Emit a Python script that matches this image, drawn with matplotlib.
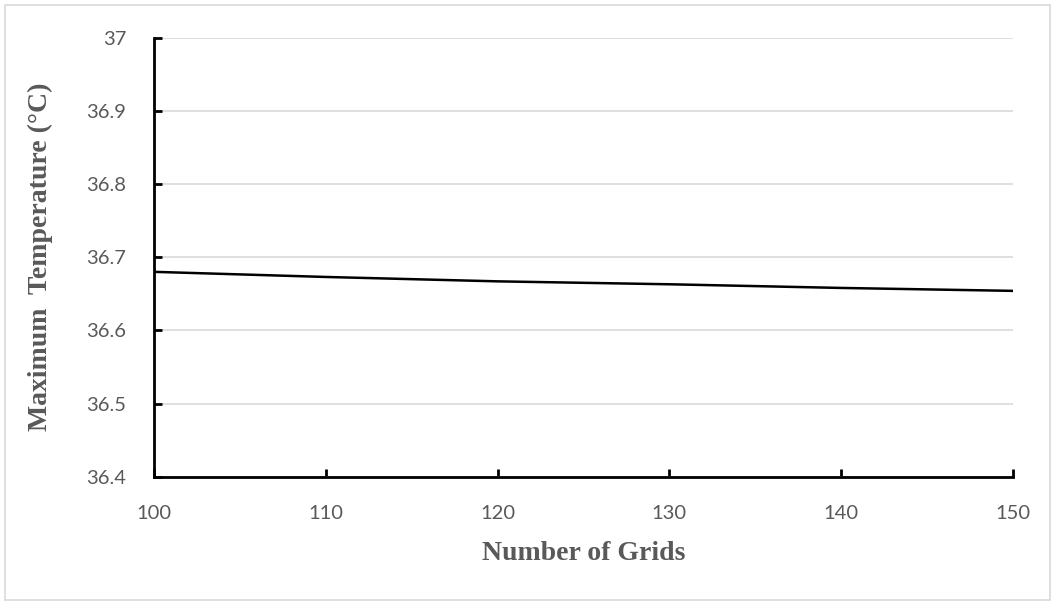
import numpy as np
import matplotlib.pyplot as plt
from matplotlib.patches import Rectangle

# grid count vs. max temperature
grids = [100, 110, 120, 130, 140, 150]
max_temp = [36.680, 36.673, 36.667, 36.663, 36.658, 36.654]

x_ticks = [100, 110, 120, 130, 140, 150]
y_ticks = [36.4, 36.5, 36.6, 36.7, 36.8, 36.9, 37.0]
y_labels = ["36.4", "36.5", "36.6", "36.7", "36.8", "36.9", "37"]

grey = "#595959"

fig = plt.figure(figsize=(10.57, 6.02), dpi=100)
ax = fig.add_axes([0.1457, 0.2081, 0.8127, 0.7293])

# outer frame like the Excel chart area
fig.patches.append(Rectangle((5 / 1057, 2 / 602), 1045 / 1057, 595 / 602,
                             transform=fig.transFigure, fill=False,
                             edgecolor="#d9d9d9", linewidth=1.2))

ax.plot(grids, max_temp, color="black", linewidth=1.8)

ax.set_xlim(100, 150)
ax.set_ylim(36.4, 37.0)
ax.set_xticks(x_ticks)
ax.set_yticks(y_ticks)
ax.set_yticklabels(y_labels)

ax.grid(axis="y", color="#d9d9d9", linewidth=1.2)
ax.set_axisbelow(True)

for s in ["top", "right"]:
    ax.spines[s].set_visible(False)
for s in ["left", "bottom"]:
    ax.spines[s].set_linewidth(2)
    ax.spines[s].set_color("black")

ax.tick_params(direction="in", length=6, width=2, colors="black",
               labelcolor=grey, labelsize=14.5, pad=20)
ax.tick_params(axis="y", pad=20)
for lbl in ax.get_xticklabels() + ax.get_yticklabels():
    lbl.set_family(["Lato", "DejaVu Sans"])

ax.set_xlabel("Number of Grids", family="Liberation Serif", fontweight="bold",
              fontsize=20, color=grey, labelpad=14)
ax.set_ylabel("Maximum  Temperature (\u00b0C)", family="Liberation Serif",
              fontweight="bold", fontsize=20, color=grey, labelpad=24)

fig.savefig("out.png", dpi=100)
